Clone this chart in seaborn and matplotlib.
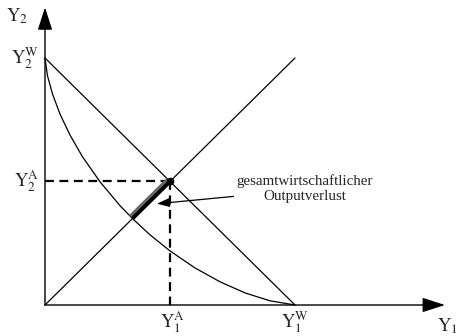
import matplotlib
matplotlib.use("Agg")
import matplotlib.pyplot as plt
import matplotlib.patheffects as pe
import seaborn as sns

# Transformation curve (Y1, Y2), normalised to Y^W = 1
curve_y1 = [0.0, 0.01, 0.03, 0.06, 0.10, 0.15, 0.22, 0.30, 0.35, 0.42,
            0.50, 0.60, 0.70, 0.80, 0.90, 1.0]
curve_y2 = [1.0, 0.928, 0.854, 0.773, 0.688, 0.600, 0.499, 0.402, 0.350,
            0.284, 0.219, 0.150, 0.094, 0.049, 0.017, 0.0]

# Straight line between the two autarky maxima and the 45 degree line
y1_w = 1.0
y2_w = 1.0
diag_end = 1.0

# Point A and the start of the output loss segment (on the curve)
y1_a = 0.5
y2_a = 0.5
loss_start = 0.35

label_text = "gesamtwirtschaftlicher\nOutputverlust"

sns.set_style("white")
plt.rcParams["font.family"] = ["Liberation Serif", "DejaVu Serif"]
plt.rcParams["mathtext.fontset"] = "stix"

fig = plt.figure(figsize=(4.6, 3.36), dpi=100)
ax = fig.add_axes([0, 0, 1, 1])
ax.set_xlim(-0.18, 1.66)
ax.set_ylim(-0.1255, 1.2348)
ax.axis("off")

thin = dict(color="black", linewidth=0.9, estimator=None, sort=False, legend=False)

# axes with arrows
head = "-|>,head_length=1.4,head_width=0.45"
ax.annotate("", xy=(1.6, 0), xytext=(0, 0),
            arrowprops=dict(arrowstyle=head, color="black", lw=1.0, shrinkA=0, shrinkB=0))
ax.annotate("", xy=(0, 1.205), xytext=(0, 0),
            arrowprops=dict(arrowstyle=head, color="black", lw=1.0, shrinkA=0, shrinkB=0))

sns.lineplot(x=curve_y1, y=curve_y2, ax=ax, **thin)
sns.lineplot(x=[0, y1_w], y=[y2_w, 0], ax=ax, **thin)
sns.lineplot(x=[0, diag_end], y=[0, diag_end], ax=ax, **thin)

# dashed guides to A
dash = dict(color="black", linewidth=1.6, estimator=None, sort=False, legend=False)
l1 = sns.lineplot(x=[0, y1_a], y=[y2_a, y2_a], ax=ax, **dash).lines[-1]
l1.set_dashes((4, 2.5))
l2 = sns.lineplot(x=[y1_a, y1_a], y=[y2_a, 0], ax=ax, **dash).lines[-1]
l2.set_dashes((4, 2.5))

# output loss segment
seg = sns.lineplot(x=[loss_start, y1_a], y=[loss_start, y2_a], ax=ax,
                   color="black", linewidth=2.8, estimator=None, sort=False,
                   legend=False).lines[-1]
seg.set_solid_capstyle("butt")
seg.set_path_effects([pe.Stroke(linewidth=3.4, foreground="#666666", offset=(-1.3, 1.3)),
                      pe.Normal()])
ax.plot([y1_a], [y2_a], "o", color="black", markersize=4.5)

# annotation with arrow
ax.annotate(label_text, xy=(0.448, 0.41), xytext=(1.04, 0.47),
            ha="center", va="center", fontsize=10.8, linespacing=1.2,
            arrowprops=dict(arrowstyle="-|>,head_length=0.7,head_width=0.25",
                            color="black", lw=0.9, shrinkA=0, shrinkB=0,
                            relpos=(0.0, 0.25)))

# axis labels
ls = 13.5
ax.text(-0.11, 1.17, r"$\mathrm{Y}_2$", fontsize=ls, ha="center", va="center")
ax.text(-0.025, y2_w, r"$\mathrm{Y}_2^{\mathrm{W}}$", fontsize=ls, ha="right", va="center")
ax.text(-0.025, y2_a, r"$\mathrm{Y}_2^{\mathrm{A}}$", fontsize=ls, ha="right", va="center")
ax.text(y1_a + 0.01, -0.018, r"$\mathrm{Y}_1^{\mathrm{A}}$", fontsize=ls, ha="center", va="top")
ax.text(y1_w, -0.018, r"$\mathrm{Y}_1^{\mathrm{W}}$", fontsize=ls, ha="center", va="top")
ax.text(1.61, -0.045, r"$\mathrm{Y}_1$", fontsize=ls, ha="center", va="top")

fig.savefig("out.png", dpi=100)
